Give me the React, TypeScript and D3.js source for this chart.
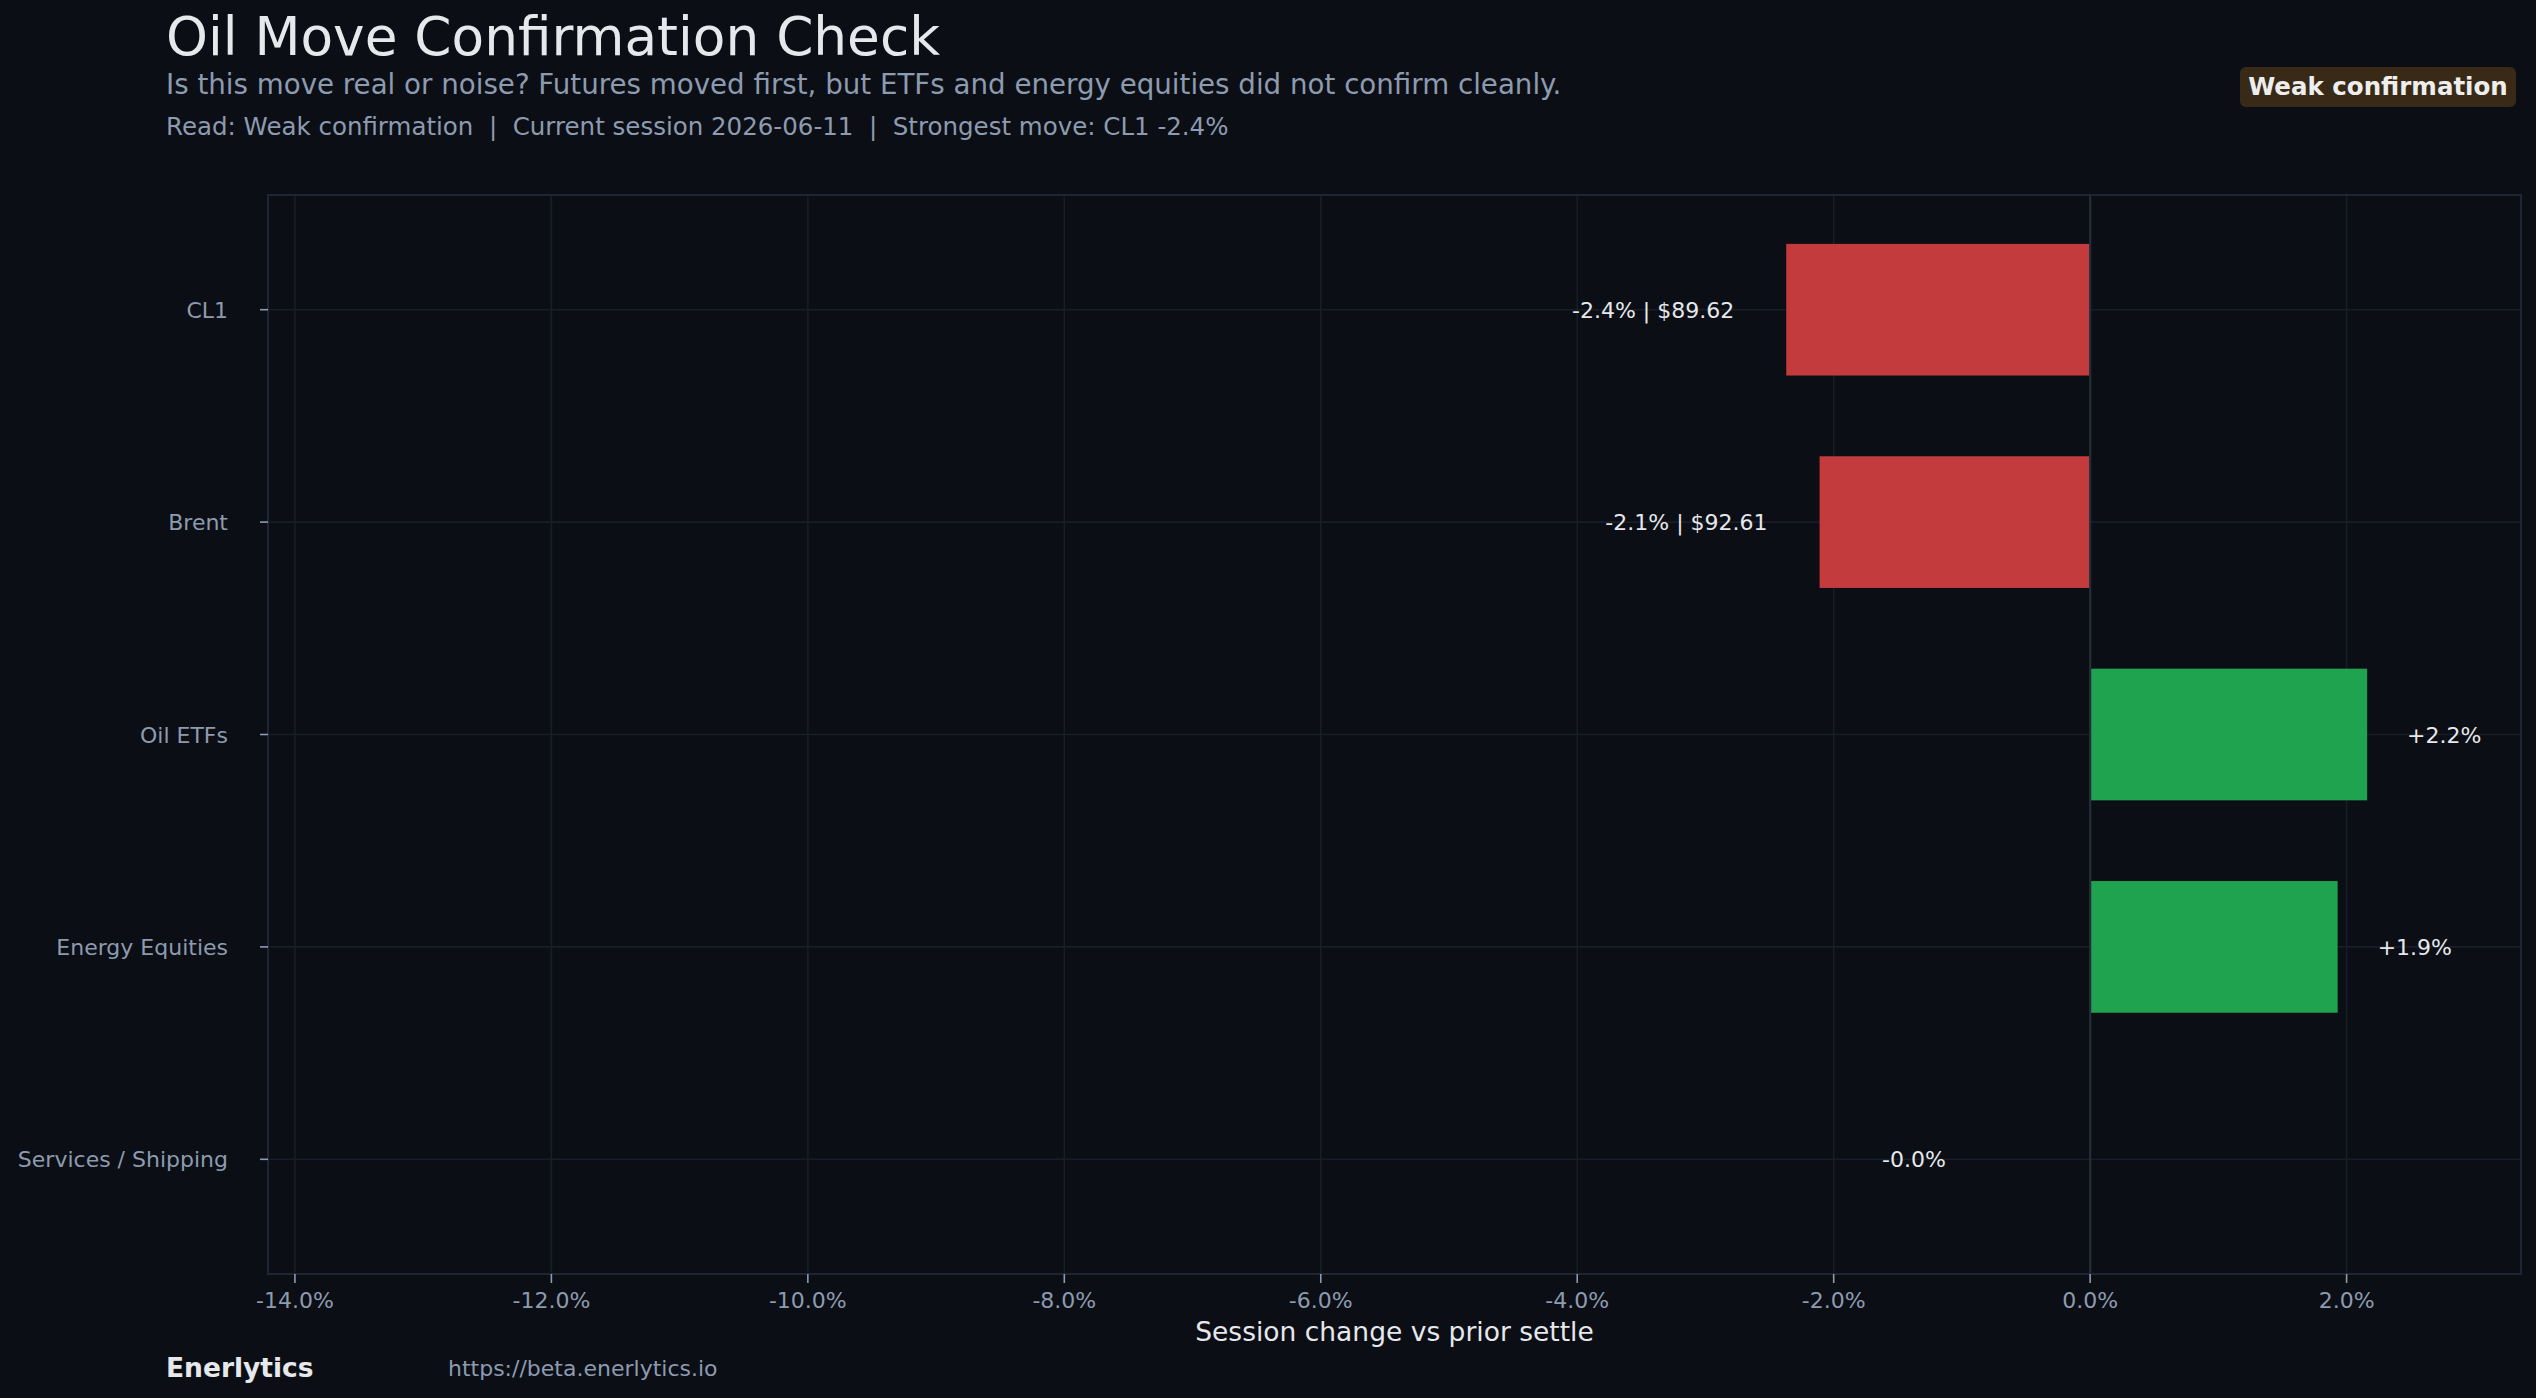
import React, { useEffect } from "react";
import * as d3 from "d3";

// session moves vs prior settle, in percent
const categories = ["CL1", "Brent", "Oil ETFs", "Energy Equities", "Services / Shipping"];
const changes = [-2.37, -2.11, 2.16, 1.93, -0.002];
const prices: (number | null)[] = [89.62, 92.61, null, null, null];
const xTicks = [-14, -12, -10, -8, -6, -4, -2, 0, 2];

const W = 2536;
const H = 1398;
const FONT = "'DejaVu Sans', sans-serif";
const BG = "#0b0e14";
const MUTED = "#8d9bb0";
const LIGHT = "#e6e8ec";

const fmtPct = (v: number) => `${v > 0 ? "+" : ""}${v.toFixed(1)}%`;

export default function App() {
  useEffect(() => {
    document.body.style.margin = "0";
    document.body.style.background = BG;
  }, []);

  const x = d3.scaleLinear().domain([-14.21, 3.36]).range([268, 2521]);
  const y = d3.scaleLinear().domain([-0.54, 4.54]).range([195, 1274]);
  const barH = y(0.62) - y(0);
  const [x0, x1] = x.range();
  const [y0, y1] = y.range();

  return (
    <svg width={W} height={H} style={{ display: "block", background: BG }} fontFamily={FONT}>
      <rect x={0} y={0} width={W} height={H} fill={BG} />

      {/* header */}
      <text x={166} y={55} fontSize={53.3} fill={LIGHT}>Oil Move Confirmation Check</text>
      <text x={166} y={93.5} fontSize={27.7} fill={MUTED}>
        Is this move real or noise? Futures moved first, but ETFs and energy equities did not confirm cleanly.
      </text>
      <text x={166} y={135} fontSize={24.5} fill={MUTED} style={{ whiteSpace: "pre" }}>
        {"Read: Weak confirmation  |  Current session 2026-06-11  |  Strongest move: CL1 -2.4%"}
      </text>

      <rect x={2240} y={67} width={276} height={40} rx={6} fill="#382a16" />
      <text x={2378} y={95} fontSize={24.5} fontWeight="bold" fill="#eeeeee" textAnchor="middle">
        Weak confirmation
      </text>

      {/* grid */}
      {xTicks.filter((t) => t !== 0).map((t) => (
        <line key={`gx${t}`} x1={x(t)} x2={x(t)} y1={y0} y2={y1} stroke="#181d27" strokeWidth={1.6} />
      ))}
      {categories.map((c, i) => (
        <line key={`gy${c}`} x1={x0} x2={x1} y1={y(i)} y2={y(i)} stroke="#181d27" strokeWidth={1.6} />
      ))}

      {/* bars */}
      {changes.map((v, i) => (
        <rect key={`b${i}`} x={x(Math.min(0, v))} y={y(i) - barH / 2}
          width={Math.abs(x(v) - x(0))} height={barH}
          fill={v < 0 ? "#c43b3e" : "#1fa34f"} />
      ))}

      {/* zero line */}
      <line x1={x(0)} x2={x(0)} y1={y0} y2={y1} stroke="#252d3b" strokeWidth={2.2} />

      {/* value labels */}
      {changes.map((v, i) => {
        const neg = v < 0;
        const anchor = neg ? Math.min(v, -0.72) : v;
        const lx = neg ? x(anchor) - 52 : x(anchor) + 40;
        const price = prices[i];
        const txt = price != null ? `${fmtPct(v)} | $${price.toFixed(2)}` : fmtPct(v);
        return (
          <text key={`l${i}`} x={lx} y={y(i) + 8} fontSize={22} fill={LIGHT}
            textAnchor={neg ? "end" : "start"}>{txt}</text>
        );
      })}

      {/* frame */}
      <rect x={x0} y={y0} width={x1 - x0} height={y1 - y0} fill="none" stroke="#1f2532" strokeWidth={2} />

      {/* y axis */}
      {categories.map((c, i) => (
        <g key={`yt${c}`}>
          <line x1={x0 - 8} x2={x0} y1={y(i)} y2={y(i)} stroke={MUTED} strokeWidth={1.6} />
          <text x={228} y={y(i) + 8} fontSize={22} fill={MUTED} textAnchor="end">{c}</text>
        </g>
      ))}

      {/* x axis */}
      {xTicks.map((t) => (
        <g key={`xt${t}`}>
          <line x1={x(t)} x2={x(t)} y1={y1} y2={y1 + 9} stroke={MUTED} strokeWidth={1.6} />
          <text x={x(t)} y={1308} fontSize={22} fill={MUTED} textAnchor="middle">{`${t.toFixed(1)}%`}</text>
        </g>
      ))}
      <text x={(x0 + x1) / 2} y={1341} fontSize={26.5} fill={LIGHT} textAnchor="middle">
        Session change vs prior settle
      </text>

      {/* footer */}
      <text x={166} y={1377} fontSize={26.5} fontWeight="bold" fill={LIGHT}>Enerlytics</text>
      <text x={448} y={1376} fontSize={22} fill={MUTED}>https://beta.enerlytics.io</text>
    </svg>
  );
}
